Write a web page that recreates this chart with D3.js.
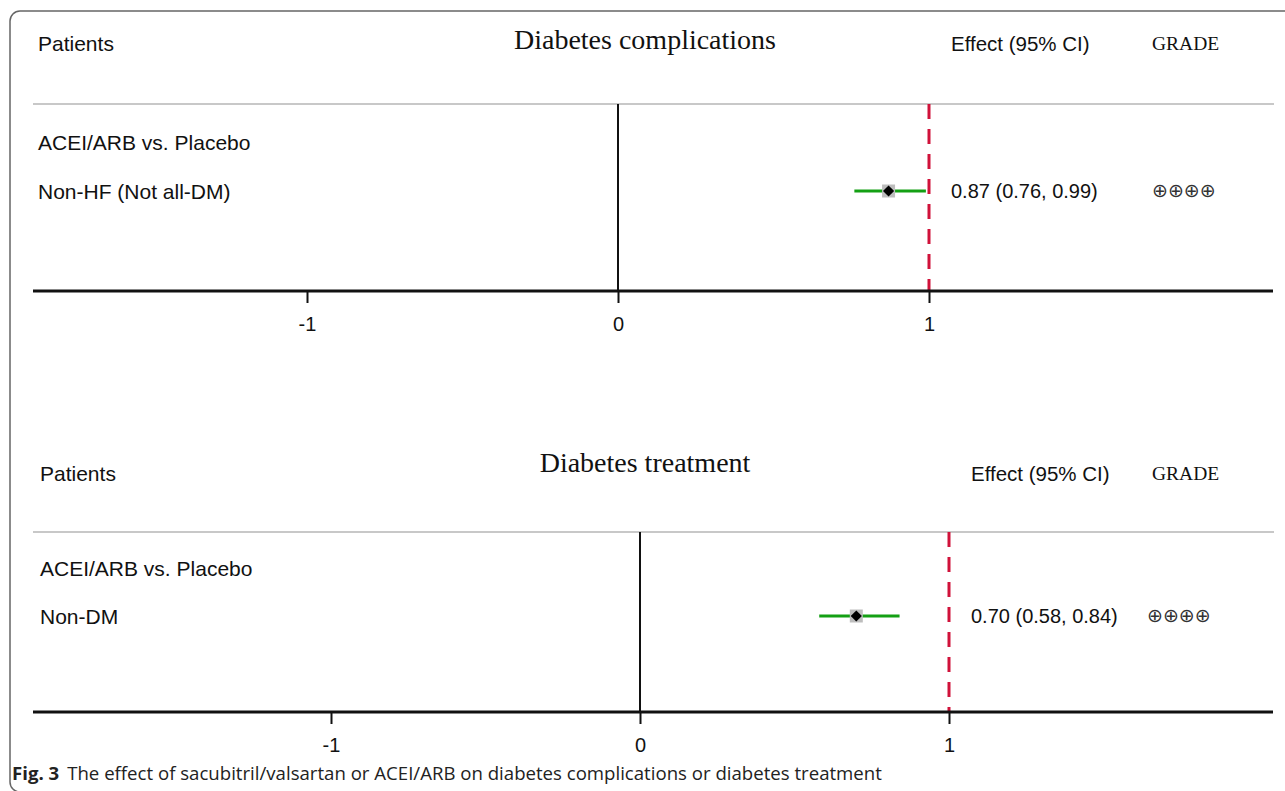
<!DOCTYPE html>
<html>
  <head>
    <title>forest plot</title>
    <meta charset="utf-8" />
    <script src="https://d3js.org/d3.v7.min.js"></script>
    <style>
      body { margin: 0; background: #fff; }
      text { fill: #111; }
    </style>
  </head>
  <body>
    <script>
      // data
      const panelTitles = ["Diabetes complications", "Diabetes treatment"];
      const comparisons = ["ACEI/ARB vs. Placebo", "ACEI/ARB vs. Placebo"];
      const patientGroups = ["Non-HF (Not all-DM)", "Non-DM"];
      const estimates = [0.87, 0.70];
      const lowers = [0.76, 0.58];
      const uppers = [0.99, 0.84];
      const grades = ["\u2295\u2295\u2295\u2295", "\u2295\u2295\u2295\u2295"];
      const tickValues = [-1, 0, 1];
      const caption = "The effect of sacubitril/valsartan or ACEI/ARB on diabetes complications or diabetes treatment";

      const width = 1285, height = 791;
      const SANS = "'Liberation Sans', Arial, sans-serif";
      const SERIF = "'Liberation Serif', 'Times New Roman', serif";

      const svg = d3.select("body").append("svg")
        .attr("width", width)
        .attr("height", height);

      // frame round the figure
      svg.append("rect")
        .attr("x", 10).attr("y", 11)
        .attr("width", 1300).attr("height", 781)
        .attr("rx", 10)
        .attr("fill", "none")
        .attr("stroke", "#666")
        .attr("stroke-width", 1.5);

      // layout of each panel (pixel positions only)
      const panels = [
        { top: 0, left: 38, x0: 307, x1: 929, effectX: 951, gradeX: 1152, gradeSymX: 1152,
          headY: 51, titleY: 49, lineTop: 104, row1: 150, row2: 199, axisY: 291 },
        { top: 422, left: 40, x0: 331, x1: 949, effectX: 971, gradeX: 1152, gradeSymX: 1147,
          headY: 59, titleY: 50, lineTop: 110, row1: 154, row2: 202, axisY: 290 }
      ];

      panels.forEach((p, i) => {
        const g = svg.append("g").attr("transform", `translate(0,${p.top})`);
        const x = d3.scaleLinear().domain([-1, 1]).range([p.x0, p.x1]);

        g.append("text").attr("x", p.left).attr("y", p.headY)
          .style("font-family", SANS).style("font-size", "21px").text("Patients");
        g.append("text")
          .attr("x", 645).attr("y", p.titleY)
          .attr("text-anchor", "middle")
          .style("font-family", SERIF).style("font-size", "28px").text(panelTitles[i]);
        g.append("text").attr("x", p.effectX).attr("y", p.headY)
          .style("font-family", SANS).style("font-size", "20.5px").text("Effect (95% CI)");
        g.append("text")
          .attr("x", p.gradeX).attr("y", p.headY - 1)
          .style("font-family", SERIF).style("font-size", "19.5px").text("GRADE");

        // header rule
        g.append("line")
          .attr("x1", 33).attr("x2", 1274)
          .attr("y1", p.lineTop).attr("y2", p.lineTop)
          .attr("stroke", "#c8c8c8").attr("stroke-width", 2);

        // line of no effect at 0
        g.append("line")
          .attr("x1", x(0)).attr("x2", x(0))
          .attr("y1", p.lineTop).attr("y2", p.axisY)
          .attr("stroke", "#111").attr("stroke-width", 2);

        // reference at 1
        g.append("line")
          .attr("x1", x(1)).attr("x2", x(1))
          .attr("y1", p.lineTop).attr("y2", p.axisY)
          .attr("stroke", "#d0123a").attr("stroke-width", 3)
          .attr("stroke-dasharray", "15,10");

        // row labels
        g.append("text").attr("x", p.left).attr("y", p.row1)
          .style("font-family", SANS).style("font-size", "21px").text(comparisons[i]);
        g.append("text").attr("x", p.left).attr("y", p.row2)
          .style("font-family", SANS).style("font-size", "21px").text(patientGroups[i]);

        // confidence interval
        const cy = p.row2 - 8;
        g.append("line")
          .attr("x1", x(lowers[i])).attr("x2", x(uppers[i]))
          .attr("y1", cy).attr("y2", cy)
          .attr("stroke", "#14a014").attr("stroke-width", 3);
        g.append("rect")
          .attr("x", x(estimates[i]) - 6.5).attr("y", cy - 6.5)
          .attr("width", 13).attr("height", 13)
          .attr("fill", "#bdbdbd");
        g.append("path")
          .attr("d", d3.symbol(d3.symbolDiamond2, 80)())
          .attr("transform", `translate(${x(estimates[i])},${cy})`)
          .attr("fill", "#000");

        const fmt = d3.format(".2f");
        g.append("text").attr("x", p.effectX).attr("y", p.row2 - 1)
          .style("font-family", SANS).style("font-size", "20px")
          .text(`${fmt(estimates[i])} (${fmt(lowers[i])}, ${fmt(uppers[i])})`);
        g.append("text").attr("x", p.gradeSymX).attr("y", p.row2 - 2)
          .style("font-family", "'DejaVu Sans', sans-serif").style("font-size", "19px")
          .style("fill", "#333")
          .text(grades[i]);

        // axis
        const axis = d3.axisBottom(x)
          .tickValues(tickValues)
          .tickSize(12)
          .tickSizeOuter(0)
          .tickFormat(d => String(d));
        const ag = g.append("g").attr("transform", `translate(0,${p.axisY})`).call(axis);
        ag.select(".domain").remove();
        ag.selectAll(".tick line").attr("stroke", "#111").attr("stroke-width", 2);
        ag.selectAll(".tick text")
          .attr("y", 40)
          .attr("dy", 0)
          .style("font-family", SANS)
          .style("font-size", "20px")
          .style("fill", "#111");
        g.append("line")
          .attr("x1", 33).attr("x2", 1273)
          .attr("y1", p.axisY).attr("y2", p.axisY)
          .attr("stroke", "#111").attr("stroke-width", 3);
      });

      // caption, sized so it spans the same width as in the figure
      const cap = svg.append("text")
        .attr("x", 12).attr("y", 780)
        .style("font-family", "'Open Sans', 'Noto Sans', sans-serif")
        .style("font-size", "16px")
        .style("fill", "#222");
      cap.append("tspan").style("font-weight", "bold").text("Fig. 3");
      cap.append("tspan").attr("dx", 8).text(caption);
      const capW = cap.node().getComputedTextLength();
      cap.style("font-size", (16 * 862 / capW).toFixed(2) + "px");
    </script>
  </body>
</html>
